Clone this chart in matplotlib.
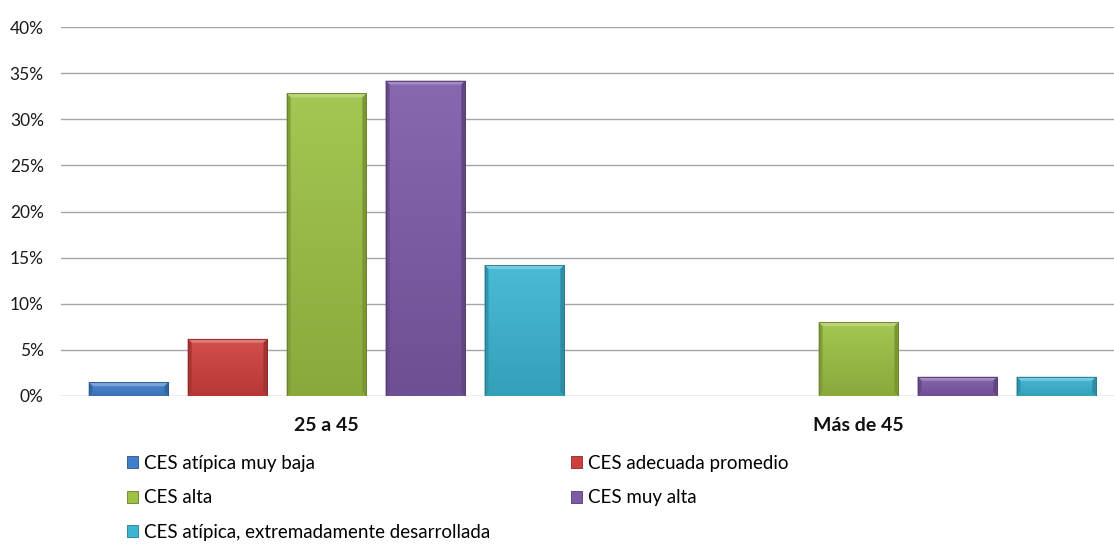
import numpy as np
import matplotlib
matplotlib.use("Agg")
import matplotlib.pyplot as plt
from matplotlib.colors import to_rgb
from matplotlib.patches import Polygon, Patch

plt.rcParams['font.family'] = ['Lato', 'DejaVu Sans']

# Data
categories = ['25 a 45', 'Más de 45']
series = ['CES atípica muy baja', 'CES adecuada promedio', 'CES alta',
          'CES muy alta', 'CES atípica, extremadamente desarrollada']
values = [
    [1.5, 0.0],
    [6.2, 0.0],
    [32.8, 8.0],
    [34.2, 2.1],
    [14.2, 2.1],
]
colors = ['#3f7fcc', '#cf403d', '#9cc143', '#7d5aa8', '#3bb5d2']
yticks = [0, 5, 10, 15, 20, 25, 30, 35, 40]


def shade(c, f):
    r = np.array(to_rgb(c))
    if f >= 0:
        return tuple(r + (1 - r) * f)
    return tuple(r * (1 + f))


def bevel_bar(ax, patch, color):
    # vertical gradient clipped to the bar, then bevelled edges
    x, y = patch.get_x(), patch.get_y()
    w, h = patch.get_width(), patch.get_height()
    if h <= 0:
        return
    grad = np.linspace(0, 1, 64)[:, None]
    top, bot = np.array(shade(color, 0.08)), np.array(shade(color, -0.12))
    img = top[None, None, :] * (1 - grad[..., None]) + bot[None, None, :] * grad[..., None]
    im = ax.imshow(img, extent=(x, x + w, y, y + h), origin='upper',
                   aspect='auto', zorder=3, interpolation='bilinear')
    im.set_clip_path(patch)
    # bevel size in data units (about 4 px)
    inv = ax.transData.inverted()
    p0 = inv.transform((0, 0))
    p1 = inv.transform((4, 4))
    bx = p1[0] - p0[0]
    by = min(p1[1] - p0[1], h / 2.5)
    x2, y2 = x + w, y + h
    faces = [
        ([(x, y2), (x2, y2), (x2 - bx, y2 - by), (x + bx, y2 - by)], shade(color, 0.30)),
        ([(x, y), (x + bx, y + by), (x + bx, y2 - by), (x, y2)], shade(color, -0.18)),
        ([(x2, y), (x2 - bx, y + by), (x2 - bx, y2 - by), (x2, y2)], shade(color, -0.22)),
    ]
    for pts, fc in faces:
        ax.add_patch(Polygon(pts, closed=True, facecolor=fc, edgecolor='none', zorder=4))
    ax.add_patch(Polygon([(x, y), (x2, y), (x2, y2), (x, y2)], closed=True,
                         facecolor='none', edgecolor=shade(color, -0.35),
                         linewidth=0.6, zorder=5))


fig = plt.figure(figsize=(11.14, 5.52), dpi=100)
ax = fig.add_axes([60.5 / 1114, 1 - 396 / 552, 1064 / 1114, 369 / 552])

n = len(series)
step = 0.186
width = 0.15
xc = np.arange(len(categories))

ax.set_xlim(-0.5, len(categories) - 0.5)
ax.set_ylim(0, 40)

bars = []
for j, (name, vals, col) in enumerate(zip(series, values, colors)):
    b = ax.bar(xc + (j - (n - 1) / 2) * step, vals, width=width,
               color='none', edgecolor='none', zorder=3, label=name)
    bars.append(b)

fig.canvas.draw()
for b, col in zip(bars, colors):
    for p in b.patches:
        bevel_bar(ax, p, col)

ax.set_yticks(yticks)
ax.set_yticklabels([f'{t}%' for t in yticks], fontsize=12.5, color='#1a1a1a')
ax.yaxis.grid(True, color='#a6a6a6', linewidth=1.0, zorder=0)
ax.set_axisbelow(True)
ax.tick_params(axis='y', length=0, pad=12)
ax.set_xticks(xc)
ax.set_xticklabels(categories, fontsize=14, fontweight='bold', color='#111111')
ax.tick_params(axis='x', length=0, pad=15)
for s in ax.spines.values():
    s.set_visible(False)

# legend filled row-wise in two columns
handles = [Patch(facecolor=c, edgecolor=shade(c, -0.35), linewidth=0.6) for c in colors]
order = [0, 2, 4, 1, 3]
fig.legend([handles[i] for i in order], [series[i] for i in order],
           ncol=2, loc='upper left', bbox_to_anchor=(127 / 1114, 1 - 455 / 552),
           frameon=False, fontsize=13.5, handlelength=0.6, handleheight=0.6,
           handletextpad=0.3, labelspacing=0.93, columnspacing=4.3,
           borderaxespad=0, borderpad=0)

fig.savefig('out.png', dpi=100)
